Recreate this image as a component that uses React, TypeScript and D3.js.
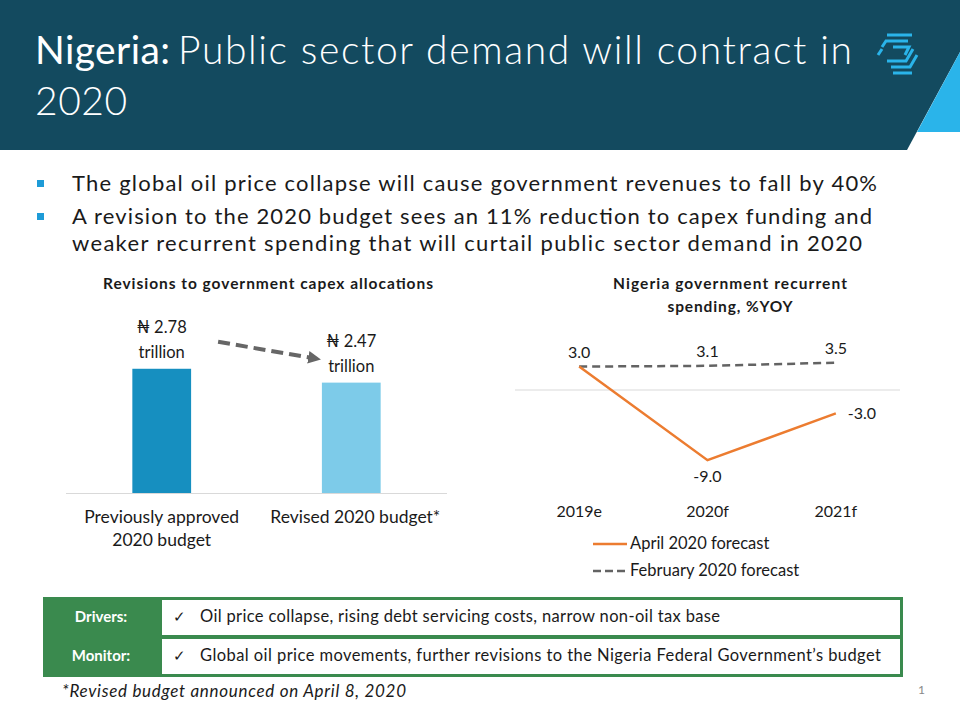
import React from 'react';
import * as d3 from 'd3';

// capex bars
const capexCategories = ['Previously approved|2020 budget', 'Revised 2020 budget*'];
const capexValues = [2.78, 2.47];
const capexLabels = ['\u20A6 2.78|trillion', '\u20A6  2.47|trillion'];
const capexColors = ['#168fc0', '#7dcbe9'];

// recurrent spending lines
const years = ['2019e', '2020f', '2021f'];
const aprilForecast = [3.0, -9.0, -3.0];
const februaryForecast = [3.0, 3.1, 3.5];

const bullets = [
  ['The global oil price collapse will cause government revenues to fall by 40%'],
  ['A revision to the 2020 budget sees an 11% reduction to capex funding and',
    'weaker recurrent spending that will curtail public sector demand in 2020'],
];
const bulletWidths = [[805], [800, 790]];

const tableRows = [
  ['Drivers:', 'Oil price collapse, rising debt servicing costs, narrow non-oil tax base'],
  ['Monitor:', 'Global oil price movements, further revisions to the Nigeria Federal Government\u2019s budget'],
];
const tableWidths = [520, 681];

const FONT = 'Lato, "Open Sans", sans-serif';
const TEXT = '#1a1a1a';

export default function App() {
  // bar chart scales
  const xBar = d3.scaleBand().domain(capexCategories).range([66, 447]).paddingInner(0.69).paddingOuter(0.35);
  const yBar = d3.scaleLinear().domain([0, 3.2]).range([493, 350]);

  // line chart scales
  const xLine = d3.scalePoint().domain(years).range([515, 900]).padding(0.5);
  const yLine = d3.scaleLinear().domain([-10, 5]).range([468, 351]);
  const line = d3.line<number>().x((_, i) => xLine(years[i]) as number).y(d => yLine(d));

  const arrowStart = [xBar(capexCategories[0])! + xBar.bandwidth() + 27, yBar(capexValues[0]) - 27];
  const arrowEnd = [xBar(capexCategories[1])! - 6, yBar(capexValues[1]) - 24];

  return (
    <svg width={960} height={720} style={{ position: 'absolute', left: 0, top: 0 }} fontFamily={FONT}>
      <defs>
        <marker id="arr" viewBox="0 0 10 10" refX="6" refY="5" markerWidth="3.2" markerHeight="3.2" orient="auto">
          <path d="M0,0 L10,5 L0,10 z" fill="#666" />
        </marker>
      </defs>
      <rect width={960} height={720} fill="#fff" />
      {/* header */}
      <path d="M0,0 H960 V52 L907,150 H0 Z" fill="#134a5f" />
      <path d="M960,52 L917,132 H960 Z" fill="#2ab4ea" />
      <text x={35} y={64} fill="#fff" fontSize={39} textLength={135} lengthAdjust="spacing">Nigeria:</text>
      <text x={178} y={64} fill="#fff" fontSize={39} fontWeight={300} textLength={674} lengthAdjust="spacing">
        Public sector demand will contract in
      </text>
      <text x={35} y={115} fill="#fff" fontSize={39} fontWeight={300} textLength={92} lengthAdjust="spacing">2020</text>
      <g stroke="#2ab4ea" strokeWidth={3} fill="none">
        <path d="M887,35 H912" />
        <path d="M882,47 L886,41 H908" />
        <path d="M893,47 H909 L905,55" />
        <path d="M878,55 L882,49" />
        <path d="M887,61 H906 L913,49" />
        <path d="M891,67 H910 L917,55" />
        <path d="M893,73 H912" />
      </g>

      {/* bullets */}
      {bullets.map((b, i) =>
        b.map((t, j) => {
          const y = 191 + (i === 0 ? 0 : 33) + j * 27;
          return (
            <g key={`${i}-${j}`}>
              {j === 0 && <rect x={37} y={y - 11} width={7} height={7} fill="#1e9bd7" />}
              <text x={72} y={y} fontSize={22} fill={TEXT} textLength={bulletWidths[i][j]} lengthAdjust="spacing">{t}</text>
            </g>
          );
        })
      )}

      {/* capex bar chart */}
      <text x={103} y={289} fontSize={15.5} fontWeight={700} fill={TEXT} textLength={330} lengthAdjust="spacing">
        Revisions to government capex allocations
      </text>
      <line x1={66} x2={447} y1={493.5} y2={493.5} stroke="#d9d9d9" />
      {capexCategories.map((c, i) => {
        const x = xBar(c)!;
        const cx = x + xBar.bandwidth() / 2;
        const top = yBar(capexValues[i]);
        const lbl = capexLabels[i].split('|');
        return (
          <g key={c}>
            <rect x={x} y={top} width={xBar.bandwidth()} height={yBar(0) - top} fill={capexColors[i]} />
            {lbl.map((l, k) => (
              <text key={k} x={cx} y={top - 36 + k * 25} textAnchor="middle" fontSize={16.5} fill={TEXT}>{l}</text>
            ))}
            {c.split('|').map((l, k) => (
              <text key={k} x={cx + (i === 1 ? 4 : 0)} y={523 + k * 23} textAnchor="middle" fontSize={17.5} fill={TEXT}>{l}</text>
            ))}
          </g>
        );
      })}
      <line x1={arrowStart[0]} y1={arrowStart[1]} x2={arrowEnd[0]} y2={arrowEnd[1]}
        stroke="#666" strokeWidth={4} strokeDasharray="12,6" markerEnd="url(#arr)" />

      {/* recurrent spending line chart */}
      <text x={730} y={289} textAnchor="middle" fontSize={15.5} fontWeight={700} fill={TEXT} textLength={234} lengthAdjust="spacing">Nigeria government recurrent</text>
      <text x={730} y={312} textAnchor="middle" fontSize={15.5} fontWeight={700} fill={TEXT} textLength={125} lengthAdjust="spacing">spending, %YOY</text>
      <line x1={515} x2={900} y1={yLine(0)} y2={yLine(0)} stroke="#d9d9d9" />
      <path d={line(februaryForecast)!} fill="none" stroke="#636363" strokeWidth={2.5} strokeDasharray="8,5" />
      <path d={line(aprilForecast)!} fill="none" stroke="#ec7c30" strokeWidth={2.5} />
      {februaryForecast.map((v, i) => (
        <text key={i} x={xLine(years[i])} y={yLine(v) - 9} textAnchor="middle" fontSize={16} fill={TEXT}>{v.toFixed(1)}</text>
      ))}
      {aprilForecast.map((v, i) => {
        if (i === 0) return null;
        const x = xLine(years[i])! + (i === 2 ? 26 : 0);
        const y = i === 2 ? yLine(v) + 6 : yLine(v) + 22;
        return <text key={i} x={x} y={y} textAnchor="middle" fontSize={16} fill={TEXT}>{v.toFixed(1)}</text>;
      })}
      {years.map(y => (
        <text key={y} x={xLine(y)} y={517} textAnchor="middle" fontSize={16} fill={TEXT}>{y}</text>
      ))}
      <line x1={593} x2={627} y1={544} y2={544} stroke="#ec7c30" strokeWidth={2.5} />
      <text x={630} y={549} fontSize={16.5} fill={TEXT}>April 2020 forecast</text>
      <line x1={593} x2={627} y1={571} y2={571} stroke="#636363" strokeWidth={2.5} strokeDasharray="8,4" />
      <text x={630} y={576} fontSize={16.5} fill={TEXT}>February 2020 forecast</text>

      {/* drivers / monitor table */}
      <rect x={43} y={597} width={860} height={80} fill="#3a8a4e" />
      {tableRows.map((r, i) => {
        const y = 600 + i * 39;
        return (
          <g key={r[0]}>
            <rect x={162} y={y} width={738} height={35} fill="#fff" />
            <text x={101} y={y + 22} textAnchor="middle" fontSize={15} fontWeight={700} fill="#fff">{r[0]}</text>
            <text x={173} y={y + 22} fontSize={15} fill={TEXT}>{'\u2713'}</text>
            <text x={200} y={y + 22} fontSize={16.5} fill={TEXT} textLength={tableWidths[i]} lengthAdjust="spacing">{r[1]}</text>
          </g>
        );
      })}
      <text x={62} y={697} fontSize={17} fontStyle="italic" fill={TEXT} textLength={344} lengthAdjust="spacing">*Revised budget announced on April 8, 2020</text>
      <text x={918} y={694} fontSize={12} fill="#888">1</text>
    </svg>
  );
}
